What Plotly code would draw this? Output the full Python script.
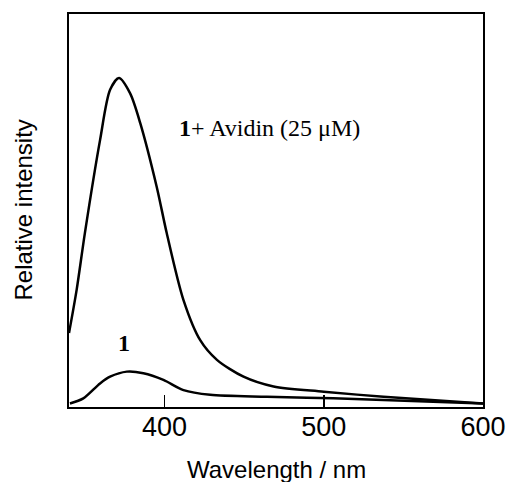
import plotly.graph_objects as go

# Emission spectra (relative intensity, 0-100 scale)
wl_avidin = [340, 344.8, 350, 359.5, 365.8, 371.4, 378.4, 384.7, 395.1, 401.4, 411.9, 422.4, 432.9, 449.6, 468.5, 500, 537.5, 600]
int_avidin = [18.8, 29.8, 44.3, 67.9, 80.7, 83.7, 79.8, 72.3, 56.0, 44.2, 27.2, 17.0, 12.0, 7.7, 5.2, 3.9, 2.6, 0.9]

wl_free = [340.6, 349, 359.5, 365.8, 376.3, 386.7, 399.3, 411.9, 428.7, 464.3, 506, 600]
int_free = [0.9, 2.2, 6.0, 7.7, 9.0, 8.6, 6.9, 4.3, 3.1, 2.6, 2.2, 0.9]

x_ticks = [400, 500, 600]

fig = go.Figure()
fig.add_trace(go.Scatter(x=wl_avidin, y=int_avidin, mode="lines",
                         line=dict(color="black", width=2.5, shape="spline", smoothing=0.8),
                         showlegend=False, hoverinfo="skip"))
fig.add_trace(go.Scatter(x=wl_free, y=int_free, mode="lines",
                         line=dict(color="black", width=2.5, shape="spline", smoothing=0.8),
                         showlegend=False, hoverinfo="skip"))

fig.add_annotation(x=408, y=71, xref="x", yref="y", xanchor="left", yanchor="middle",
                   text="<b>1</b>+ Avidin (25 μM)", showarrow=False,
                   font=dict(family="Liberation Serif", size=24, color="black"))
fig.add_annotation(x=374.6, y=16.3, xref="x", yref="y", xanchor="center", yanchor="middle",
                   text="<b>1</b>", showarrow=False,
                   font=dict(family="Liberation Serif", size=24, color="black"))

# axis titles
fig.add_annotation(x=0.5, y=-0.158, xref="paper", yref="paper", xanchor="center", yanchor="middle",
                   text="Wavelength / nm", showarrow=False,
                   font=dict(family="Liberation Sans", size=24, color="black"))
fig.add_annotation(x=-0.111, y=0.5, xref="paper", yref="paper", xanchor="center", yanchor="middle",
                   text="Relative intensity", showarrow=False, textangle=-90,
                   font=dict(family="Liberation Sans", size=24, color="black"))

fig.update_layout(
    width=509, height=482,
    margin=dict(l=69, r=26, t=14, b=75),
    paper_bgcolor="white", plot_bgcolor="white",
    font=dict(family="Liberation Sans", color="black"),
)
fig.update_xaxes(range=[340, 600], tickvals=x_ticks, ticktext=[str(v) for v in x_ticks],
                 ticks="inside", ticklen=12, tickwidth=1.5, tickcolor="black",
                 showline=True, linecolor="black", linewidth=2, mirror=True,
                 showgrid=False, zeroline=False, automargin=False,
                 ticklabelstandoff=-5,
                 tickfont=dict(size=27, family="Liberation Sans"))
fig.update_yaxes(range=[0, 100], showticklabels=False, ticks="",
                 showline=True, linecolor="black", linewidth=2, mirror=True,
                 showgrid=False, zeroline=False, automargin=False)

fig.write_html("out.html", config={"displayModeBar": False, "staticPlot": True},
               post_script="document.body.style.margin='0';document.body.style.overflow='hidden';")
